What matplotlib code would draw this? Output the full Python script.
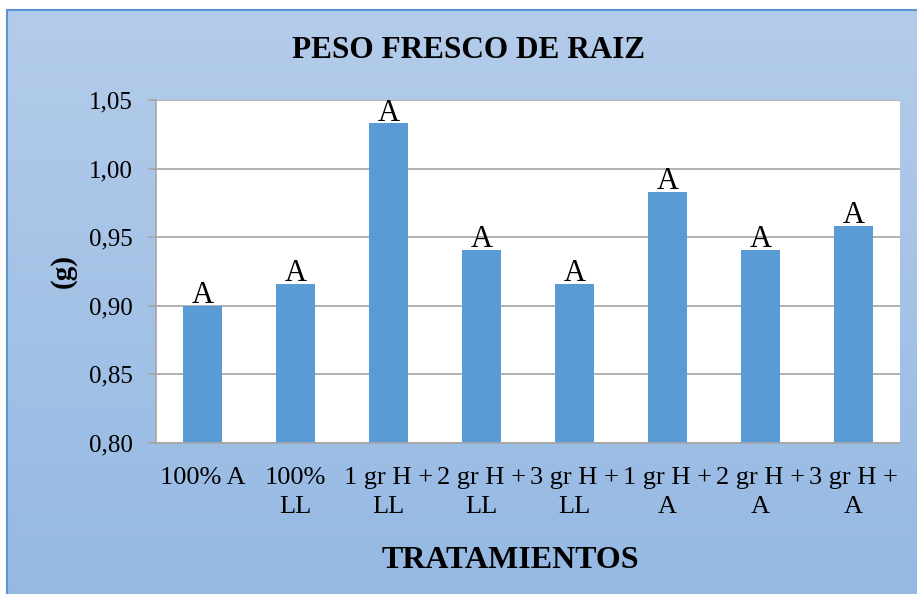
import numpy as np
import matplotlib.pyplot as plt
from matplotlib.ticker import FuncFormatter

plt.rcParams['font.family'] = ['Liberation Serif', 'DejaVu Serif']

# data
categories = ['100% A', '100%\nLL', '1 gr H +\nLL', '2 gr H +\nLL', '3 gr H +\nLL',
              '1 gr H +\nA', '2 gr H +\nA', '3 gr H +\nA']
values = [0.900, 0.916, 1.033, 0.941, 0.916, 0.983, 0.941, 0.958]
letters = ['A', 'A', 'A', 'A', 'A', 'A', 'A', 'A']
yticks = [0.80, 0.85, 0.90, 0.95, 1.00, 1.05]

W, H = 917, 594
fig = plt.figure(figsize=(W / 100, H / 100), dpi=100)
fig.patch.set_facecolor('white')

# gradient chart background
bg = fig.add_axes([7 / W, 0, 1 - 7 / W, 1 - 10 / H], zorder=0)
grad = np.linspace(0, 1, 256).reshape(-1, 1)
top = np.array([0.706, 0.800, 0.918])
bot = np.array([0.584, 0.725, 0.890])
img = top + (bot - top) * grad[:, :, None]
bg.imshow(img, aspect='auto', extent=[0, 1, 0, 1], origin='upper')
bg.set_xticks([])
bg.set_yticks([])
for s in ['right', 'bottom']:
    bg.spines[s].set_visible(False)
for s in ['top', 'left']:
    bg.spines[s].set_color('#5b93d6')
    bg.spines[s].set_linewidth(1.5)

ax = fig.add_axes([156 / W, 1 - 443 / H, (900 - 156) / W, (443 - 100) / H], zorder=1)
ax.set_facecolor('white')

x = np.arange(len(categories))
ax.bar(x, values, width=0.41, color='#5b9bd5', zorder=2)
for xi, v, t in zip(x, values, letters):
    ax.annotate(t, (xi, v), xytext=(0, 2), textcoords='offset points',
                ha='center', va='baseline', fontsize=22, zorder=3)

ax.set_xlim(-0.5, len(categories) - 0.5)
ax.set_ylim(0.80, 1.05)
ax.set_yticks(yticks)
ax.yaxis.set_major_formatter(FuncFormatter(lambda v, p: f'{v:.2f}'.replace('.', ',')))
ax.yaxis.grid(True, color='#a6a6a6', linewidth=1.2, zorder=1)
ax.set_axisbelow(True)
ax.set_xticks(x)
ax.set_xticklabels(categories, fontsize=19, linespacing=1.45)
ax.tick_params(axis='x', length=0, pad=17)
ax.tick_params(axis='y', labelsize=18, length=6, width=1.2, color='#a6a6a6', pad=11)

for s in ['top', 'right']:
    ax.spines[s].set_visible(False)
for s in ['left', 'bottom']:
    ax.spines[s].set_color('#a6a6a6')
    ax.spines[s].set_linewidth(1.2)

fig.text(469 / W, 1 - 50 / H, 'PESO FRESCO DE RAIZ', ha='center', va='center',
         fontsize=22.5, fontweight='bold')
fig.text(510 / W, 1 - 561 / H, 'TRATAMIENTOS', ha='center', va='center',
         fontsize=23, fontweight='bold')
fig.text(63 / W, 1 - 271 / H, '(g)', ha='center', va='center', rotation=90,
         fontsize=21, fontweight='bold')

fig.savefig('out.png', dpi=100)
